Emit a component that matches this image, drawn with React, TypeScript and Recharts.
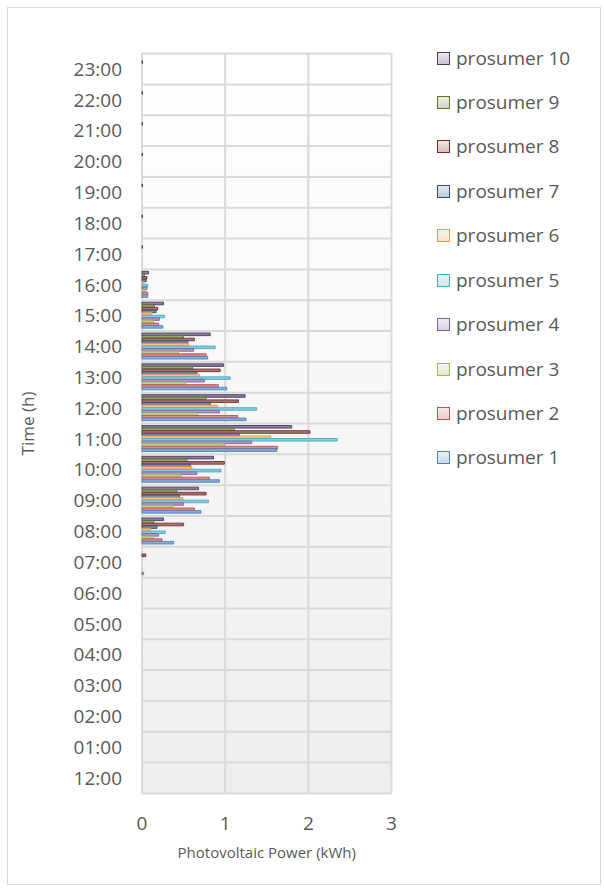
import { BarChart, Bar, XAxis, YAxis, CartesianGrid, Legend } from 'recharts';

// hourly PV output per prosumer, kWh
const hours = [
  '12:00', '01:00', '02:00', '03:00', '04:00', '05:00', '06:00', '07:00',
  '08:00', '09:00', '10:00', '11:00', '12:00 ', '13:00', '14:00', '15:00',
  '16:00', '17:00', '18:00', '19:00', '20:00', '21:00', '22:00', '23:00',
];

const prosumer1 = [0, 0, 0, 0, 0, 0, 0, 0.02, 0.38, 0.71, 0.93, 1.62, 1.25, 1.02, 0.79, 0.25, 0.07, 0, 0, 0, 0, 0, 0, 0];
const prosumer2 = [0, 0, 0, 0, 0, 0, 0, 0, 0.24, 0.63, 0.81, 1.63, 1.15, 0.92, 0.77, 0.2, 0.07, 0, 0, 0, 0, 0, 0, 0];
const prosumer3 = [0, 0, 0, 0, 0, 0, 0, 0, 0.14, 0.37, 0.47, 0.99, 0.67, 0.53, 0.44, 0.14, 0.04, 0, 0, 0, 0, 0, 0, 0];
const prosumer4 = [0, 0, 0, 0, 0, 0, 0, 0, 0.2, 0.5, 0.66, 1.32, 0.93, 0.75, 0.62, 0.21, 0.06, 0, 0, 0, 0, 0, 0, 0];
const prosumer5 = [0, 0, 0, 0, 0, 0, 0, 0, 0.28, 0.8, 0.95, 2.35, 1.38, 1.06, 0.88, 0.27, 0.07, 0, 0, 0, 0, 0, 0, 0];
const prosumer6 = [0, 0, 0, 0, 0, 0, 0, 0, 0.1, 0.49, 0.6, 1.55, 0.91, 0.69, 0.56, 0.12, 0.02, 0, 0, 0, 0, 0, 0, 0];
const prosumer7 = [0, 0, 0, 0, 0, 0, 0, 0, 0.18, 0.45, 0.58, 1.17, 0.82, 0.66, 0.55, 0.17, 0.05, 0, 0, 0, 0, 0, 0, 0];
const prosumer8 = [0, 0, 0, 0, 0, 0, 0, 0.045, 0.5, 0.77, 0.99, 2.02, 1.16, 0.94, 0.63, 0.19, 0.06, 0.005, 0.005, 0.005, 0.005, 0.005, 0.005, 0.005];
const prosumer9 = [0, 0, 0, 0, 0, 0, 0, 0, 0.14, 0.42, 0.54, 1.11, 0.77, 0.61, 0.5, 0.15, 0.03, 0, 0, 0, 0, 0, 0, 0];
const prosumer10 = [0, 0, 0, 0, 0, 0, 0, 0, 0.26, 0.68, 0.86, 1.8, 1.24, 0.98, 0.82, 0.26, 0.08, 0, 0, 0, 0, 0, 0, 0];

const xTicks = [0, 1, 2, 3];

// drawn top-to-bottom inside each hour band, same order as the legend
const series = [
  { name: 'prosumer 10', values: prosumer10, color: '#4D3B62' },
  { name: 'prosumer 9', values: prosumer9, color: '#5F7530' },
  { name: 'prosumer 8', values: prosumer8, color: '#772C2A' },
  { name: 'prosumer 7', values: prosumer7, color: '#2C4D75' },
  { name: 'prosumer 6', values: prosumer6, color: '#F79646' },
  { name: 'prosumer 5', values: prosumer5, color: '#4BACC6' },
  { name: 'prosumer 4', values: prosumer4, color: '#8064A2' },
  { name: 'prosumer 3', values: prosumer3, color: '#9BBB59' },
  { name: 'prosumer 2', values: prosumer2, color: '#C0504D' },
  { name: 'prosumer 1', values: prosumer1, color: '#4F81BD' },
];

const data = hours.map((time, i) => {
  const row: Record<string, string | number> = { time };
  series.forEach((s) => {
    row[s.name] = s.values[i];
  });
  return row;
});

const tint = (hex: string, t: number) => {
  const n = parseInt(hex.slice(1), 16);
  const mix = (c: number) => Math.round(c + (255 - c) * t);
  return `rgb(${mix((n >> 16) & 255)},${mix((n >> 8) & 255)},${mix(n & 255)})`;
};

const textColor = '#595959';

const renderLegend = () => (
  <div>
    {series.map((s) => (
      <div key={s.name} style={{ height: 44.45, display: 'flex', alignItems: 'center' }}>
        <span
          style={{
            display: 'inline-block',
            width: 11,
            height: 11,
            border: `1.5px solid ${s.color}`,
            background: `linear-gradient(${tint(s.color, 0.88)}, ${tint(s.color, 0.7)})`,
          }}
        />
        <span style={{ marginLeft: 6, fontSize: 19, color: textColor, lineHeight: 1 }}>{s.name}</span>
      </div>
    ))}
  </div>
);

export default function App() {
  return (
    <div
      style={{
        position: 'absolute',
        left: 7,
        top: 7,
        width: 592,
        height: 876,
        border: '1px solid #d9d9d9',
        background: '#fff',
        fontFamily: '"Open Sans", sans-serif',
      }}
    >
      <BarChart
        width={592}
        height={876}
        data={data}
        layout="vertical"
        margin={{ top: 45.6, right: 208.5, bottom: 20.6, left: 0 }}
        barSize={2.6}
        barGap={0}
      >
        <defs>
          <linearGradient id="plotBg" x1="0" y1="0" x2="0" y2="1">
            <stop offset="0" stopColor="#ffffff" />
            <stop offset="1" stopColor="#eeeeee" />
          </linearGradient>
        </defs>
        <CartesianGrid
          fill="url(#plotBg)"
          stroke="#d9d9d9"
          strokeWidth={2}
          horizontalCoordinatesGenerator={({ offset }: any) =>
            Array.from({ length: hours.length + 1 }, (_, i) => offset.top + (i * offset.height) / hours.length)
          }
        />
        <XAxis
          type="number"
          domain={[0, 3]}
          ticks={xTicks}
          axisLine={false}
          tickLine={false}
          tickSize={0}
          tickMargin={22.8}
          height={70}
          tick={{ fill: textColor, fontSize: 19 }}
          label={{
            value: 'Photovoltaic Power (kWh)',
            position: 'insideBottom',
            offset: 5,
            style: { fill: textColor, fontSize: 15 },
          }}
        />
        <YAxis
          type="category"
          dataKey="time"
          reversed
          width={134}
          interval={0}
          axisLine={false}
          tickLine={false}
          tickSize={0}
          tickMargin={20}
          tick={{ fill: textColor, fontSize: 19 }}
          label={{
            value: 'Time (h)',
            angle: -90,
            position: 'insideLeft',
            offset: 20,
            style: { fill: textColor, fontSize: 17, textAnchor: 'middle' },
          }}
        />
        <Legend
          layout="vertical"
          align="center"
          verticalAlign="middle"
          wrapperStyle={{ left: 429, top: 27.8, width: 160 }}
          content={renderLegend}
        />
        {series.map((s) => (
          <Bar
            key={s.name}
            dataKey={s.name}
            fill={tint(s.color, 0.35)}
            stroke={s.color}
            strokeWidth={0.9}
            isAnimationActive={false}
          />
        ))}
      </BarChart>
    </div>
  );
}
